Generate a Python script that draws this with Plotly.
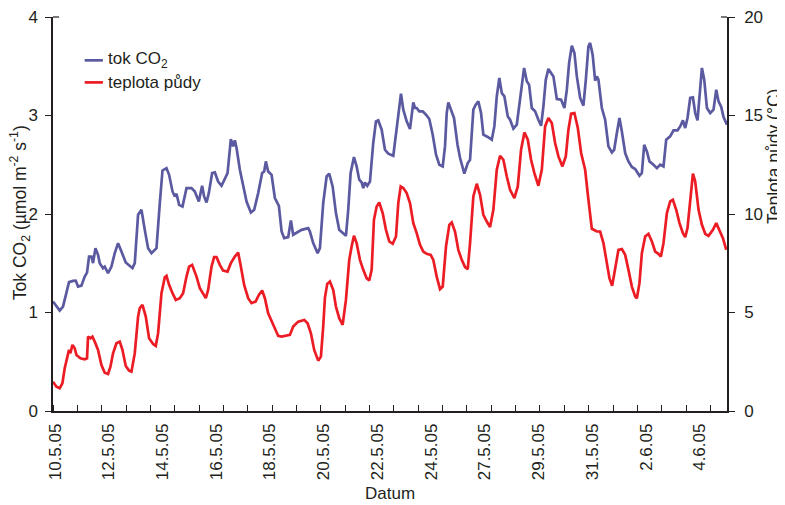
import plotly.graph_objects as go

# ---- data (x in sample-time units along the category axis) ----
co2_t = [0, 0.275, 0.411, 0.658, 0.822, 0.933, 1.028, 1.167, 1.303, 1.397, 1.480, 1.578, 1.644, 1.743, 1.850, 1.919,
         2.055, 2.125, 2.261, 2.400, 2.536, 2.672, 2.811, 2.988, 3.263, 3.358, 3.494, 3.633, 3.769, 3.905, 4.044, 4.250,
         4.386, 4.497, 4.661, 4.768, 4.908, 5.002, 5.072, 5.179, 5.318, 5.483, 5.688, 5.824, 5.988, 6.124, 6.206, 6.305,
         6.399, 6.535, 6.646, 6.782, 6.921, 7.086, 7.168, 7.304, 7.398, 7.468, 7.538, 7.674, 7.809, 7.949, 8.126, 8.262,
         8.426, 8.590, 8.672, 8.742, 8.837, 8.977, 9.112, 9.277, 9.388, 9.494, 9.659, 9.770, 9.864, 10.004, 10.210, 10.481,
         10.551, 10.686, 10.867, 10.962, 11.097, 11.237, 11.344, 11.484, 11.620, 11.755, 11.920, 12.030, 12.125, 12.223,
         12.359, 12.470, 12.577, 12.676, 12.741, 12.811, 12.906, 13.017, 13.152, 13.263, 13.358, 13.498, 13.633, 13.769,
         13.975, 14.114, 14.221, 14.291, 14.386, 14.525, 14.661, 14.797, 14.866, 14.936, 15.043, 15.183, 15.319, 15.454,
         15.594, 15.730, 15.865, 16.005, 16.099, 16.169, 16.235, 16.334, 16.469, 16.613, 16.718, 16.893, 17.033, 17.127,
         17.263, 17.361, 17.468, 17.579, 17.674, 17.855, 18.019, 18.126, 18.225, 18.331, 18.430, 18.537, 18.677, 18.771,
         18.907, 19.047, 19.182, 19.293, 19.347, 19.458, 19.552, 19.663, 19.799, 19.934, 20.045, 20.140, 20.238, 20.345,
         20.456, 20.551, 20.690, 20.867, 21.003, 21.102, 21.196, 21.307, 21.414, 21.513, 21.649, 21.784, 21.883, 21.989,
         22.059, 22.162, 22.265, 22.335, 22.400, 22.540, 22.676, 22.811, 22.951, 23.046, 23.157, 23.264, 23.362, 23.498,
         23.633, 23.773, 23.909, 24.085, 24.184, 24.279, 24.389, 24.496, 24.661, 24.801, 24.936, 25.072, 25.183, 25.347,
         25.483, 25.647, 25.758, 25.869, 25.964, 26.058, 26.169, 26.280, 26.375, 26.469, 26.552, 26.650, 26.745, 26.856,
         26.991, 27.127, 27.238, 27.332, 27.443, 27.538, 27.678]
co2_flux = [1.111, 1.019, 1.060, 1.308, 1.321, 1.324, 1.263, 1.273, 1.365, 1.405, 1.568, 1.568, 1.501, 1.653, 1.585, 1.501,
            1.450, 1.466, 1.399, 1.466, 1.603, 1.704, 1.619, 1.507, 1.450, 1.501, 1.992, 2.043, 1.839, 1.653, 1.603, 1.653,
            2.111, 2.442, 2.466, 2.398, 2.229, 2.178, 2.205, 2.093, 2.076, 2.263, 2.263, 2.229, 2.127, 2.287, 2.178, 2.117,
            2.212, 2.416, 2.422, 2.330, 2.287, 2.365, 2.416, 2.761, 2.686, 2.747, 2.670, 2.449, 2.297, 2.127, 2.015, 2.043,
            2.212, 2.416, 2.432, 2.534, 2.432, 2.398, 2.162, 2.083, 1.822, 1.755, 1.765, 1.934, 1.789, 1.806, 1.839, 1.857,
            1.822, 1.704, 1.603, 1.653, 2.111, 2.381, 2.409, 2.280, 2.009, 1.839, 1.799, 1.778, 2.043, 2.416,
            2.578, 2.483, 2.348, 2.320, 2.263, 2.320, 2.287, 2.330, 2.721, 2.940, 2.950, 2.856, 2.652, 2.612,
            2.591, 2.856, 3.110, 3.222, 3.059, 2.940, 2.863, 3.133, 3.076, 3.076, 3.042, 3.042, 3.008, 2.964,
            2.805, 2.602, 2.500, 2.483, 2.686, 3.025, 3.133, 3.059, 2.975, 2.703, 2.568, 2.409, 2.517, 2.551,
            3.059, 3.110, 3.143, 3.025, 2.805, 2.782, 2.754, 2.889, 3.194, 3.381, 3.229, 3.194, 2.991, 2.957,
            2.866, 2.907, 3.161, 3.381, 3.483, 3.347, 3.313, 3.076, 3.042, 2.957, 2.896, 3.093, 3.364, 3.473,
            3.432, 3.397, 3.168, 3.161, 3.076, 3.262, 3.534, 3.709, 3.635, 3.397, 3.178, 3.100, 3.364, 3.702,
            3.737, 3.618, 3.354, 3.397, 3.364, 3.076, 2.957, 2.686, 2.625, 2.652, 2.822, 2.975, 2.838, 2.619,
            2.534, 2.477, 2.456, 2.388, 2.416, 2.703, 2.635, 2.534, 2.500, 2.466, 2.500, 2.483, 2.754, 2.788,
            2.849, 2.849, 2.889, 2.950, 2.873, 2.975, 3.178, 3.184, 3.025, 2.950, 3.194, 3.483, 3.364, 3.076,
            3.025, 3.059, 3.262, 3.143, 3.086, 2.985, 2.907]

soil_t = [0, 0.140, 0.275, 0.386, 0.481, 0.575, 0.658, 0.715, 0.797, 0.892, 0.962, 1.126, 1.303, 1.397, 1.439, 1.537,
          1.619, 1.714, 1.850, 1.989, 2.125, 2.261, 2.359, 2.466, 2.606, 2.741, 2.852, 2.988, 3.124, 3.222, 3.358, 3.494,
          3.564, 3.674, 3.810, 3.946, 4.110, 4.221, 4.316, 4.455, 4.591, 4.661, 4.768, 4.908, 5.043, 5.208, 5.343, 5.483,
          5.590, 5.713, 5.894, 6.030, 6.165, 6.276, 6.371, 6.511, 6.617, 6.716, 6.852, 6.987, 7.168, 7.304, 7.468, 7.604,
          7.715, 7.850, 8.015, 8.154, 8.319, 8.454, 8.590, 8.701, 8.837, 8.977, 9.083, 9.248, 9.388, 9.593, 9.729, 9.864,
          10.070, 10.317, 10.456, 10.592, 10.727, 10.892, 11.003, 11.097, 11.167, 11.262, 11.373, 11.508, 11.620, 11.755,
          11.895, 12.030, 12.166, 12.264, 12.359, 12.470, 12.606, 12.741, 12.881, 12.988, 13.087, 13.181, 13.292, 13.399,
          13.539, 13.675, 13.810, 13.950, 14.086, 14.180, 14.279, 14.386, 14.525, 14.661, 14.797, 14.936, 15.072, 15.207,
          15.347, 15.512, 15.618, 15.758, 15.894, 16.005, 16.140, 16.276, 16.375, 16.510, 16.646, 16.786, 16.922, 17.033,
          17.127, 17.263, 17.403, 17.538, 17.674, 17.814, 17.949, 18.085, 18.225, 18.360, 18.496, 18.636, 18.771, 18.948,
          19.088, 19.223, 19.359, 19.499, 19.634, 19.770, 19.934, 20.074, 20.210, 20.345, 20.485, 20.621, 20.756, 20.921,
          21.060, 21.167, 21.278, 21.414, 21.554, 21.689, 21.854, 21.989, 22.129, 22.335, 22.470, 22.606, 22.746, 22.852,
          22.963, 23.086, 23.222, 23.362, 23.498, 23.633, 23.773, 23.909, 23.979, 24.085, 24.184, 24.320, 24.455, 24.595,
          24.731, 24.866, 24.965, 25.072, 25.211, 25.347, 25.458, 25.594, 25.729, 25.869, 25.964, 26.058, 26.169, 26.280,
          26.375, 26.511, 26.650, 26.786, 26.921, 27.102, 27.238, 27.373, 27.513, 27.649]
soil_temp = [1.489, 1.235, 1.153, 1.408, 2.170, 2.591, 3.100, 2.932, 3.354, 3.186, 2.846, 2.678, 2.627, 2.678, 3.775, 3.694,
             3.775, 3.521, 3.100, 2.337, 1.946, 1.880, 2.251, 2.932, 3.440, 3.521, 3.100, 2.287, 2.048, 1.997, 2.932, 4.792,
             5.218, 5.386, 4.792, 3.694, 3.404, 3.303, 3.948, 5.981, 6.794, 6.860, 6.402, 5.981, 5.640, 5.727, 5.981, 6.824,
             7.332, 7.419, 6.824, 6.235, 5.945, 5.727, 6.148, 7.332, 7.810, 7.810, 7.419, 7.129, 7.078, 7.505, 7.840, 8.044,
             7.332, 6.402, 5.727, 5.473, 5.554, 5.894, 6.113, 5.727, 4.964, 4.538, 4.284, 3.811, 3.775, 3.811, 3.862, 4.284,
             4.538, 4.624, 4.456, 3.948, 3.100, 2.556, 2.759, 4.284, 5.742, 6.453, 6.570, 6.148, 5.300, 4.710,
             4.370, 5.640, 7.673, 8.349, 8.892, 8.521, 7.673, 7.165, 6.743, 6.621, 7.165, 9.705, 10.381, 10.584,
             10.046, 9.197, 8.603, 8.486, 8.857, 10.554, 11.397, 11.316, 11.062, 10.554, 9.538, 9.029, 8.435, 8.095,
             7.978, 7.927, 7.673, 6.824, 6.184, 6.316, 8.349, 9.451, 9.568, 9.111, 8.181, 7.673, 7.302, 7.200,
             8.521, 10.889, 11.535, 10.976, 9.959, 9.619, 9.334, 10.213, 12.246, 12.957, 12.754, 11.905, 11.230, 10.808,
             11.397, 13.262, 14.141, 13.770, 12.754, 12.078, 11.433, 12.246, 14.446, 14.873, 14.619, 13.603, 12.922, 12.414,
             12.922, 14.278, 15.091, 15.127, 14.365, 13.095, 12.246, 10.722, 9.248, 9.111, 9.111, 8.521, 7.505, 6.743,
             6.352, 7.165, 8.181, 8.216, 7.927, 7.165, 6.316, 5.808, 5.727, 6.489, 8.013, 8.857, 8.994, 8.603,
             8.095, 7.978, 7.840, 8.521, 10.046, 10.635, 10.722, 10.213, 9.538, 9.029, 8.826, 9.284, 10.889, 12.043,
             11.651, 10.213, 9.451, 8.994, 8.892, 9.197, 9.538, 9.197, 8.775, 8.181]

date_labels = ["10.5.05", "12.5.05", "14.5.05", "16.5.05", "18.5.05", "20.5.05", "22.5.05",
               "24.5.05", "27.5.05", "29.5.05", "31.5.05", "2.6.05", "4.6.05"]
label_pos = [0.082 + k * 2.207 for k in range(len(date_labels))]

BLUE = "#5b5aa0"
RED = "#ec1c24"
FONT = "Liberation Sans, Arial, sans-serif"
TXT = "#231f20"
TICK_SIZE = 17
TITLE_SIZE = 17.5

fig = go.Figure()
fig.add_trace(go.Scatter(x=co2_t, y=co2_flux, mode="lines", name="tok CO2",
                         line=dict(color=BLUE, width=2.7), yaxis="y"))
fig.add_trace(go.Scatter(x=soil_t, y=soil_temp, mode="lines", name="teplota půdy",
                         line=dict(color=RED, width=2.7), yaxis="y2"))

# page body has an 8px margin, so the figure is 8px smaller than the window
fig.update_layout(
    width=777, height=497,
    margin=dict(l=45, r=58, t=9, b=94, autoexpand=False),
    paper_bgcolor="white", plot_bgcolor="white",
    showlegend=False,
    font=dict(family=FONT, size=TICK_SIZE, color=TXT),
    xaxis=dict(range=[0, 27.68], showgrid=False, zeroline=False, automargin=False,
               showline=True, linecolor=TXT, linewidth=1.5,
               tickmode="array", tickvals=label_pos, ticktext=date_labels,
               ticks="", tickangle=-90, ticklabelstandoff=4,
               tickfont=dict(size=TICK_SIZE, color=TXT),
               minor=dict(tick0=0, dtick=1, ticks="inside", ticklen=6, tickcolor=TXT, tickwidth=1.2)),
    yaxis=dict(range=[0, 4], dtick=1, showgrid=False, zeroline=False, automargin=False,
               showline=True, linecolor=TXT, linewidth=1.5,
               ticks="outside", ticklen=6, tickcolor=TXT, tickwidth=1.2,
               ticklabelstandoff=4, ticklabeloverflow="allow",
               tickfont=dict(size=TICK_SIZE, color=TXT)),
    yaxis2=dict(range=[0, 20], dtick=5, overlaying="y", side="right", anchor="x",
                showgrid=False, zeroline=False, automargin=False,
                showline=True, linecolor=TXT, linewidth=1.5,
                ticks="outside", ticklen=6, tickcolor=TXT, tickwidth=1.2,
                ticklabelstandoff=6, ticklabeloverflow="allow",
                tickfont=dict(size=TICK_SIZE, color=TXT)),
)

# axis titles as text
fig.add_annotation(xref="paper", yref="paper", x=-0.0485, y=0.503,
                   text="Tok CO<sub>2</sub> (µmol m<sup>-2</sup> s<sup>-1</sup>)",
                   textangle=-90, showarrow=False, xanchor="center", yanchor="middle",
                   borderpad=0, font=dict(size=TITLE_SIZE, color=TXT))
fig.add_annotation(xref="paper", yref="paper", x=1.070, y=0.645, text="Teplota půdy (°C)",
                   textangle=-90, showarrow=False, xanchor="center", yanchor="middle",
                   borderpad=0, font=dict(size=TITLE_SIZE, color=TXT))
fig.add_annotation(xref="paper", yref="paper", x=0.50, y=-0.21, text="Datum",
                   showarrow=False, xanchor="center", yanchor="middle",
                   font=dict(size=TICK_SIZE, color=TXT))

# short inward strokes at the top of both value axes
fig.add_shape(type="line", xref="paper", yref="paper", x0=0, x1=0.009, y0=1, y1=1,
              line=dict(color=TXT, width=1.2))
fig.add_shape(type="line", xref="paper", yref="paper", x0=0.991, x1=1, y0=1, y1=1,
              line=dict(color=TXT, width=1.2))

# manual legend
legend_items = [("tok CO<sub>2</sub>", BLUE, 0.890), ("teplota půdy", RED, 0.834)]
for text, col, yy in legend_items:
    fig.add_shape(type="line", xref="paper", yref="paper", x0=0.047, x1=0.074, y0=yy, y1=yy,
                  line=dict(color=col, width=2.7))
    fig.add_annotation(xref="paper", yref="paper", x=0.078, y=yy, text=text, showarrow=False,
                       xanchor="left", yanchor="middle", font=dict(size=TICK_SIZE, color=TXT))

fig.write_html("out.html")
